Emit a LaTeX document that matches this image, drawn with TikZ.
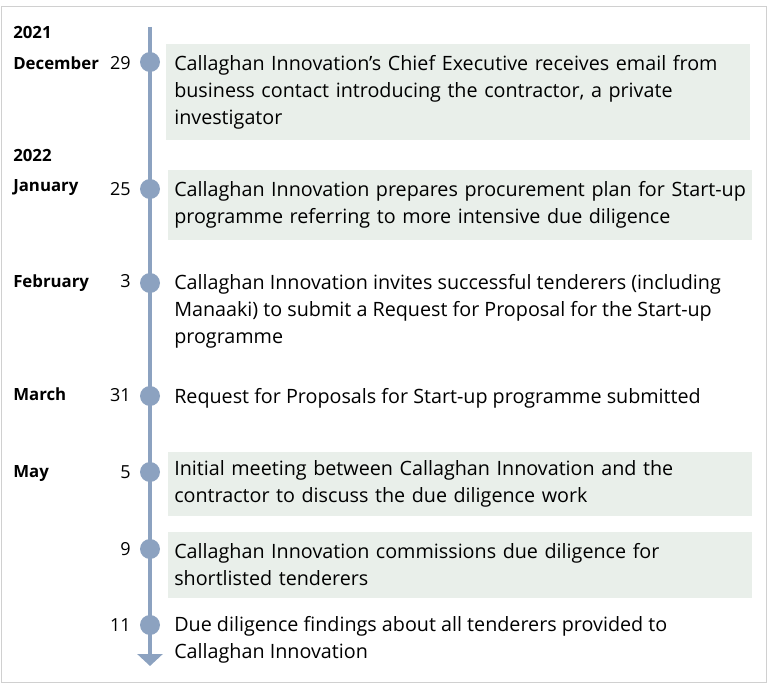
\documentclass[tikz,border=0pt]{standalone}
\usepackage{fontspec}
\setmainfont{Open Sans}
\usepackage{tikz}
\usetikzlibrary{arrows.meta}
\definecolor{lineblue}{HTML}{8CA2C0}
\definecolor{boxgrey}{HTML}{E9EFEA}
\definecolor{framegrey}{HTML}{D0D0D0}
\newcommand{\eventfont}{\fontsize{14.8pt}{20.25pt}\selectfont}
\newcommand{\datefont}{\fontsize{12.6pt}{15pt}\selectfont}
\tikzstyle{vertex}=[circle,fill=lineblue,inner sep=0pt,minimum size=15pt]
\newcommand{\vertex}{\node[vertex]}
\tikzstyle{event}=[anchor=west,align=left,inner xsep=4.5pt,inner ysep=0pt,font=\eventfont]
\tikzstyle{eventbox}=[event,fill=boxgrey,text width=429pt]
\tikzstyle{month}=[anchor=base west,inner sep=0pt,font=\datefont\bfseries]
\tikzstyle{day}=[anchor=base east,inner sep=0pt,font=\fontsize{13.5pt}{15pt}\selectfont]

\begin{document}
\begin{tikzpicture}[x=0.75pt,y=-0.75pt]
			\useasboundingbox (0,0) rectangle (768,684);
			\draw [framegrey] (1,6) rectangle (766,682);
			% % % % % % % % % % % % % % % % % % % % % % % % % % % % %
			\coordinate (top) at (150,27);
			\coordinate (tip) at (150,666);
			\draw [lineblue,line width=3pt,-{Triangle[width=18.75pt,length=9pt]}] (top) -- (tip);
			% % % % % % % % % % % % % % % % % % % % % % % % % % % % %
			\vertex (d1) at (150,62) {};
			\vertex (d2) at (150,189) {};
			\vertex (d3) at (150,283) {};
			\vertex (d4) at (150,396) {};
			\vertex (d5) at (150,472) {};
			\vertex (d6) at (150,549) {};
			\vertex (d7) at (150,625) {};
			%*********************
			\node [month] (y1) at (13,39) {2021};
			\node [month] (m1) at (13,70) {December};
			\node [month] (y2) at (13,162) {2022};
			\node [month] (m2) at (13,192) {January};
			\node [month] (m3) at (13,288) {February};
			\node [month] (m4) at (13,401) {March};
			\node [month] (m5) at (13,477) {May};
			%*********************
			\node [day] (t1) at (131,70) {29};
			\node [day] (t2) at (131,196) {25};
			\node [day] (t3) at (131,288) {3};
			\node [day] (t4) at (131,402) {31};
			\node [day] (t5) at (131,478) {5};
			\node [day] (t6) at (131,555) {9};
			\node [day] (t7) at (131,631) {11};
			% % % % % % % % % % % % % % % % % % % % % % % % % % % % %
			\node [eventbox,minimum height=72pt,inner xsep=6pt,text width=426pt] (e1) at (166,92)
				{Callaghan Innovation’s Chief Executive receives email from\\
				business contact introducing the contractor, a private\\
				investigator};
			\node [eventbox,minimum height=52.5pt] (e2) at (168,205)
				{Callaghan Innovation prepares procurement plan for Start-up\\
				programme referring to more intensive due diligence};
			\node [event] (e3) at (168,311)
				{Callaghan Innovation invites successful tenderers (including\\
				Manaaki) to submit a Request for Proposal for the Start-up\\
				programme};
			\node [event] (e4) at (168,398)
				{Request for Proposals for Start-up programme submitted};
			\node [eventbox,minimum height=48pt] (e5) at (168,484)
				{Initial meeting between Callaghan Innovation and the\\
				contractor to discuss the due diligence work};
			\node [eventbox,minimum height=49.5pt] (e6) at (168,565)
				{Callaghan Innovation commissions due diligence for\\
				shortlisted tenderers};
			\node [event] (e7) at (168,640)
				{Due diligence findings about all tenderers provided to\\
				Callaghan Innovation};
\end{tikzpicture}
\end{document}
